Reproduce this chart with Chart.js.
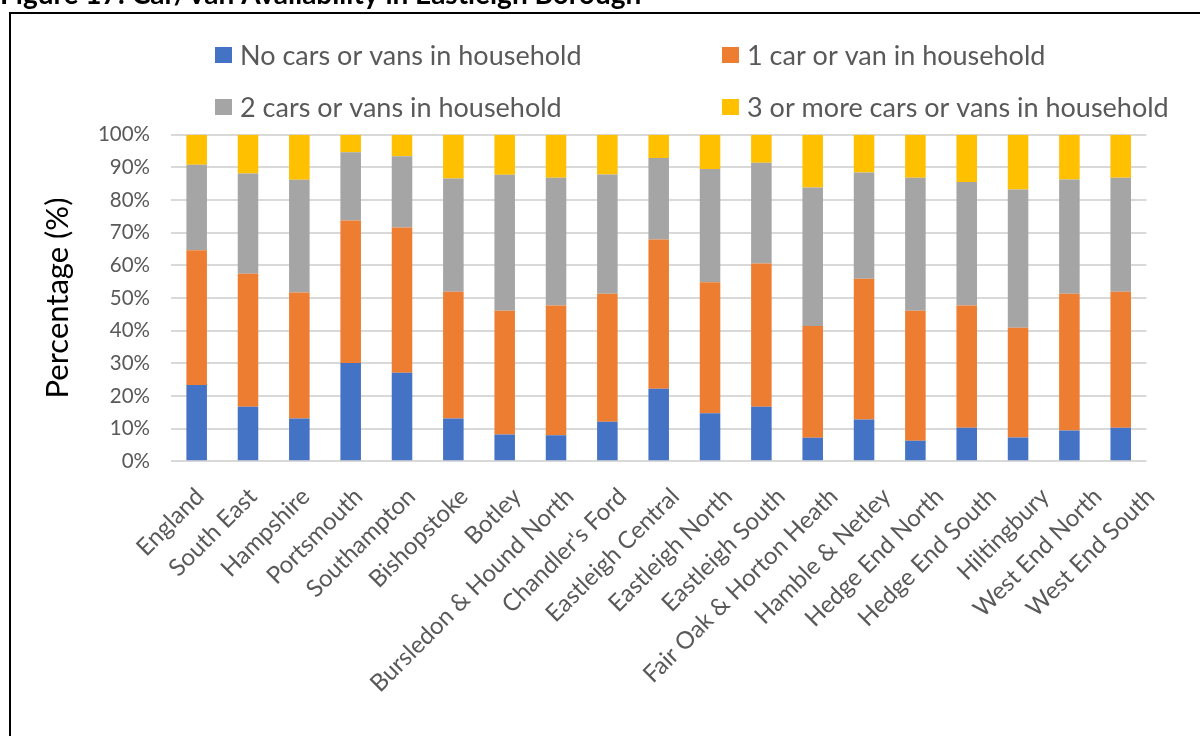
<!DOCTYPE html>
<html>
<head>
<meta charset="utf-8">
<script src="https://cdn.jsdelivr.net/npm/chart.js@4.4.1/dist/chart.umd.min.js"></script>
<style>
  html, body { margin: 0; padding: 0; background: #ffffff; }
  #wrap { position: relative; width: 1200px; height: 736px; overflow: hidden; }
  canvas { display: block; }
</style>
</head>
<body>
<div id="wrap"><canvas id="chart" width="1200" height="736"></canvas></div>
<script>
// Figure title
const figureTitle = 'Figure 17: Car/Van Availability in Eastleigh Borough';

// Areas compared
const categories = [
  'England', 'South East', 'Hampshire', 'Portsmouth', 'Southampton', 'Bishopstoke',
  'Botley', 'Bursledon & Hound North', "Chandler's Ford", 'Eastleigh Central',
  'Eastleigh North', 'Eastleigh South', 'Fair Oak & Horton Heath', 'Hamble & Netley',
  'Hedge End North', 'Hedge End South', 'Hiltingbury', 'West End North', 'West End South'
];

// Share of households (%) by number of cars or vans
const noCar     = [23.4, 16.7, 13.1, 30.1, 27.1, 13.1, 8.2, 8.0, 12.1, 22.2, 14.7, 16.7, 7.2, 12.8, 6.3, 10.3, 7.3, 9.4, 10.3];
const oneCar    = [41.2, 40.7, 38.6, 43.6, 44.5, 38.8, 37.9, 39.7, 39.2, 45.7, 40.1, 43.9, 34.2, 43.1, 39.8, 37.4, 33.6, 41.9, 41.6];
const twoCars   = [26.2, 30.7, 34.5, 20.9, 21.8, 34.7, 41.6, 39.1, 36.5, 25.0, 34.7, 30.8, 42.4, 32.5, 40.7, 37.8, 42.3, 35.0, 34.9];
const threePlus = [9.2, 11.9, 13.8, 5.4, 6.6, 13.4, 12.3, 13.2, 12.2, 7.1, 10.5, 8.6, 16.2, 11.6, 13.2, 14.5, 16.8, 13.7, 13.2];

// Series names
const seriesLabels = [
  'No cars or vans in household',
  '1 car or van in household',
  '2 cars or vans in household',
  '3 or more cars or vans in household'
];

// Y axis tick values
const yTicks = [0, 10, 20, 30, 40, 50, 60, 70, 80, 90, 100];

const FONT = 'Lato, "Open Sans", sans-serif';
const colors = ['#4472C4', '#ED7D31', '#A5A5A5', '#FFC000'];
const seriesData = [noCar, oneCar, twoCars, threePlus];

// Title, frame and two-column legend drawn onto the canvas
const decorations = {
  id: 'decorations',
  afterDraw(chart) {
    const ctx = chart.ctx;
    ctx.save();

    // frame (left and top edges)
    ctx.strokeStyle = '#000000';
    ctx.lineWidth = 2;
    ctx.beginPath();
    ctx.moveTo(10, 740);
    ctx.lineTo(10, 13);
    ctx.lineTo(1210, 13);
    ctx.stroke();

    // figure title, sitting mostly above the frame
    ctx.fillStyle = '#000000';
    ctx.font = 'bold 28px ' + FONT;
    ctx.textAlign = 'left';
    ctx.textBaseline = 'alphabetic';
    ctx.fillText(figureTitle, 0, 3.5);

    // legend
    const pos = [
      { bx: 215, tx: 240, y: 55 },
      { bx: 722, tx: 747, y: 55 },
      { bx: 215, tx: 240, y: 107 },
      { bx: 722, tx: 747, y: 107 }
    ];
    ctx.font = '27px ' + FONT;
    ctx.textBaseline = 'middle';
    chart.data.datasets.forEach((ds, i) => {
      const p = pos[i];
      ctx.fillStyle = ds.backgroundColor;
      ctx.fillRect(p.bx, p.y - 8, 17, 16);
      ctx.fillStyle = '#595959';
      ctx.fillText(ds.label, p.tx, p.y + 1);
    });
    ctx.restore();
  }
};

new Chart(document.getElementById('chart'), {
  type: 'bar',
  data: {
    labels: categories,
    datasets: seriesData.map((d, i) => ({
      label: seriesLabels[i],
      data: d,
      backgroundColor: colors[i],
      borderWidth: 0,
      barPercentage: 0.4,
      categoryPercentage: 1.0
    }))
  },
  options: {
    responsive: false,
    animation: false,
    devicePixelRatio: 1,
    layout: { padding: { top: 134.7, left: 10, right: 53.6, bottom: 0 } },
    plugins: {
      legend: { display: false },
      tooltip: { enabled: false }
    },
    scales: {
      // category axis that places the bars
      x: {
        stacked: true,
        display: false
      },
      // category names, spread slightly wider than the bar spacing
      xNames: {
        type: 'linear',
        position: 'bottom',
        offset: false,
        min: -0.55,
        max: 17.92,
        afterBuildTicks(scale) { scale.ticks = categories.map((c, i) => ({ value: i })); },
        grid: { display: false, drawTicks: false },
        border: { display: false },
        ticks: {
          autoSkip: false,
          maxRotation: 45,
          minRotation: 45,
          padding: 21,
          color: '#595959',
          font: { family: FONT, size: 24 },
          callback: v => categories[v]
        },
        afterFit(scale) { scale.height = 736 - 461.3; }
      },
      y: {
        stacked: true,
        min: 0,
        max: 100,
        afterBuildTicks(scale) { scale.ticks = yTicks.map(v => ({ value: v })); },
        grid: { color: '#d9d9d9', lineWidth: 2, drawTicks: false },
        border: { display: false },
        ticks: {
          padding: 21,
          color: '#595959',
          font: { family: FONT, size: 20.5 },
          callback: v => v + '%'
        },
        title: {
          display: true,
          text: 'Percentage (%)',
          color: '#000000',
          font: { family: FONT, size: 31, weight: 'normal' },
          padding: { top: 29, bottom: 0 }
        },
        afterFit(scale) { scale.width = 161; }
      }
    }
  },
  plugins: [decorations]
});
</script>
</body>
</html>
